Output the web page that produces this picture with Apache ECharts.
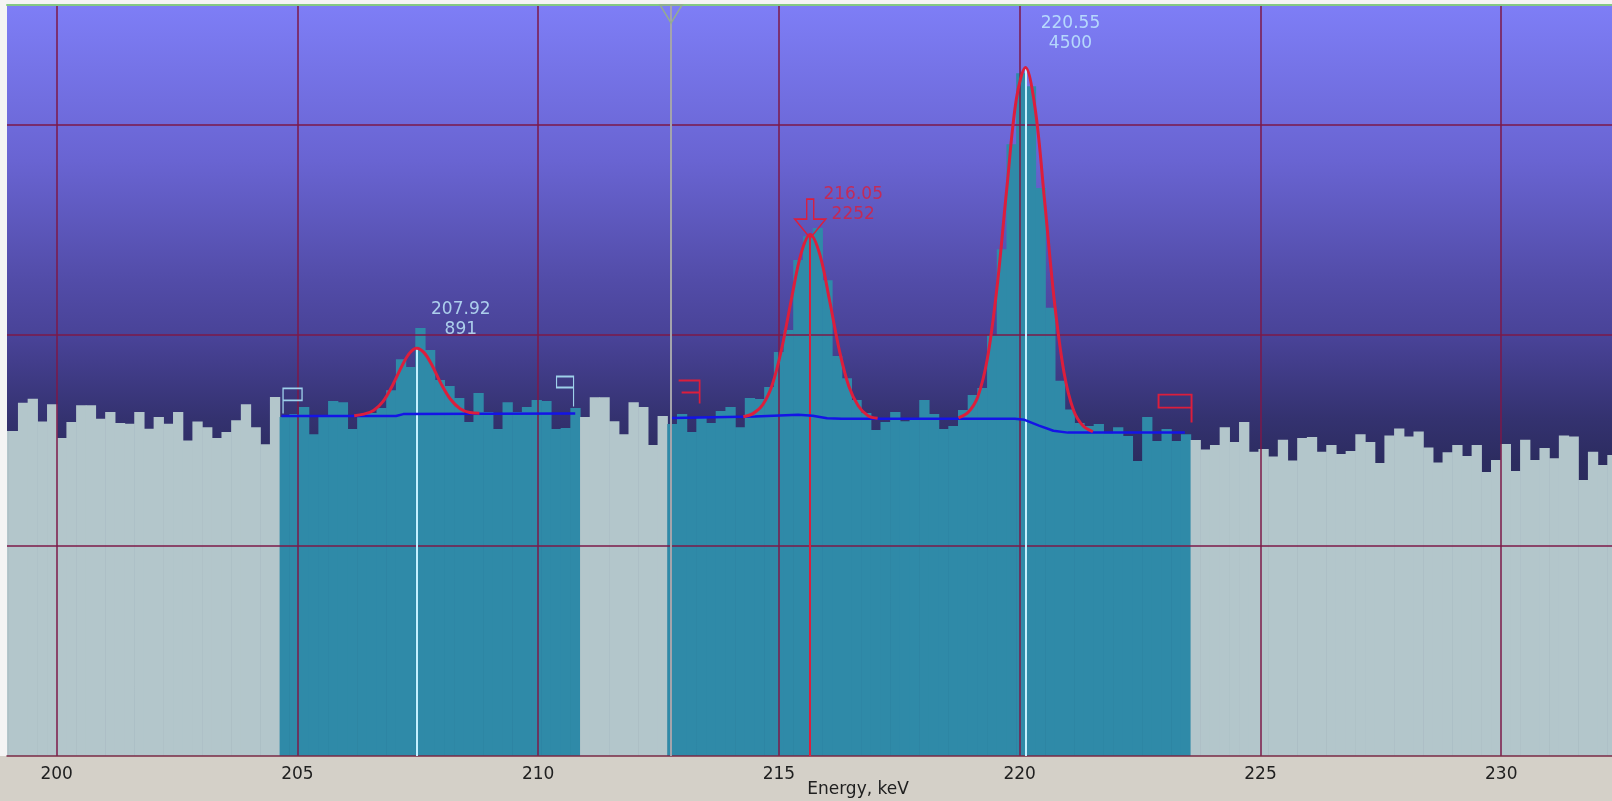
<!DOCTYPE html>
<html><head><meta charset="utf-8">
<script src="https://cdn.jsdelivr.net/npm/echarts@6/dist/echarts.min.js"></script>
<style>html,body{margin:0;padding:0;background:#d4d0c8;}#c{width:1612px;height:801px;}</style>
</head><body><div id="c"></div>
<script>
// energy calibration: channel i lower edge = CAL_OFFSET + CAL_GAIN * i  (keV)
const CAL_OFFSET = 198.795, CAL_GAIN = 0.20125;
// counts per channel
const counts = [
 1247,1247,1356,1371,1284,1350,1220,1282,1346,1346,1294,1320,1278,1275,1320,1256,1301,1275,1320,1211,1284,1262,1220,1243,1288,1350,1262,1196,1378,
 1301,1312,1339,1235,1305,1362,1358,1255,1312,1316,1335,1404,1523,1493,1642,1558,1443,1420,1374,1282,1393,1320,1255,1358,1320,1339,1366,1362,1255,1259,1335,
 1301,1377,1377,1285,1235,1358,1339,1193,1305,
 1274,1312,1243,1301,1278,1324,1339,1262,1374,1370,1416,1550,1635,1903,1995,2026,1826,1535,1450,1366,1316,1251,1282,1320,1285,1297,1366,1312,1255,1266,1328,1385,1412,1615,1945,2348,2620,2570,2180,1720,1440,1330,1278,1266,1274,1239,1262,1228,1132,1301,1209,1255,1209,1235,
 1213,1176,1193,1262,1205,1282,1168,1178,1149,1214,1134,1220,1224,1168,1193,1159,1170,1235,1205,1124,1230,1257,1226,1245,1184,1126,1166,1193,1151,1193,1090,1136,1197,1094,1214,1136,1182,1143,1230,1226,1059,1168,1117,1155
];
// regions of interest (keV)
const roiStart = [204.63, 212.72];
const roiEnd   = [210.87, 223.60];
// background (baseline) under peaks
const roi1Base = [[204.67,1305],[207.05,1305],[207.2,1312],[210.77,1314]];
const roi2Base = [[212.78,1297],[214.5,1303],[215.4,1310],[215.7,1306],[216.0,1296],[216.3,1294],[219.9,1294],[220.1,1290],[220.4,1268],[220.7,1248],[221.0,1241],[223.43,1241]];
// fitted peak curves
const fit1 = [[206.18,1306],[206.38,1312],[206.58,1326],[206.78,1361],[206.98,1424],[207.18,1500],[207.33,1546],[207.48,1565],[207.63,1548],[207.78,1505],[207.98,1430],[208.18,1369],[208.38,1333],[208.58,1318],[208.78,1315]];
const fit2 = [[214.26,1302],[214.46,1314],[214.66,1347],[214.86,1424],[215.06,1565],[215.26,1754],[215.46,1928],[215.65,2001],[215.85,1924],[216.05,1750],[216.25,1561],[216.45,1420],[216.65,1343],[216.85,1306],[217.05,1296]];
const fit3 = [[218.73,1298],[218.93,1319],[219.13,1379],[219.33,1526],[219.53,1800],[219.73,2174],[219.93,2520],[220.12,2642],[220.32,2486],[220.52,2125],[220.72,1745],[220.92,1472],[221.12,1326],[221.32,1266],[221.52,1245]];
// peaks: measured position, top, library energy label, area
const peakE    = [207.48, 215.65, 220.12];
const peakTop  = [1565, 2001, 2642];
const peakName = ['207.92', '216.05', '220.55'];
const peakArea = [891, 2252, 4500];
const markerE = 212.76;

const X_MIN = 198.97, X_MAX = 232.30, Y_MAX = 2882, Y_STEP = 808;
const GRAY = '#b3c6cb', TEAL = '#2f8aa8', GRID = '#7d1848', RED = '#dc1e3c', CYAN = '#c4f0ff';

const hist = counts.map((c, i) => [CAL_OFFSET + CAL_GAIN * (i + 0.5), c]);

function renderHist(params, api) {
  const e = api.value(0), c = api.value(1);
  const p0 = api.coord([e - CAL_GAIN / 2, c]);
  const p1 = api.coord([e + CAL_GAIN / 2, 0]);
  let inRoi = false;
  for (let r = 0; r < roiStart.length; r++) if (e > roiStart[r] && e < roiEnd[r]) inRoi = true;
  return {type: 'rect', shape: {x: p0[0], y: p0[1], width: p1[0] - p0[0] + 0.6, height: p1[1] - p0[1]},
          style: {fill: inRoi ? TEAL : GRAY}};
}

const chart = echarts.init(document.getElementById('c'));
const peakColors = [CYAN, RED, CYAN];
const labelOffsets = [[44, -29], [43, -29.5], [45, -34]];

chart.setOption({
  animation: false,
  backgroundColor: '#d4d0c8',
  graphic: [
    {type: 'rect', shape: {x: 0, y: 0, width: 7, height: 756}, style: {fill: '#f4f4f4'}, silent: true},
    {type: 'rect', shape: {x: 0, y: 0, width: 1612, height: 4}, style: {fill: '#f4f4f4'}, silent: true}
  ],
  grid: {
    left: 7, right: 0, top: 5, bottom: 45, show: true, borderWidth: 0,
    containLabel: false, outerBoundsMode: 'none',
    backgroundColor: {type: 'linear', x: 0, y: 0, x2: 0, y2: 1, colorStops: [
      {offset: 0, color: '#7e7ef6'}, {offset: 0.207, color: '#6964d2'}, {offset: 0.367, color: '#524ca8'},
      {offset: 0.447, color: '#484296'}, {offset: 0.549, color: '#343270'}, {offset: 0.607, color: '#2c2c60'},
      {offset: 1, color: '#1c1c40'}]}
  },
  xAxis: [{
    type: 'value', min: X_MIN, max: X_MAX, minInterval: 5, maxInterval: 5, z: 3,
    axisLine: {show: true, onZero: false, lineStyle: {color: '#7a2a45', width: 1.5}},
    axisTick: {show: false},
    splitLine: {show: true, showMinLine: false, showMaxLine: false, lineStyle: {color: GRID, width: 1.5}},
    axisLabel: {show: true, showMinLabel: false, showMaxLabel: false, margin: 10, color: '#202020',
                fontFamily: 'DejaVu Sans', fontSize: 17},
    name: 'Energy, keV', nameLocation: 'middle', nameGap: 25, nameMoveOverlap: false,
    nameTextStyle: {color: '#202020', fontFamily: 'DejaVu Sans', fontSize: 17, padding: [0, 0, 0, 97]}
  }, {
    type: 'value', position: 'top', min: X_MIN, max: X_MAX, z: 4,
    axisLine: {show: true, onZero: false, lineStyle: {color: '#84c884', width: 2}},
    axisTick: {show: false}, axisLabel: {show: false}, splitLine: {show: false}
  }],
  yAxis: {
    type: 'value', min: 0, max: Y_MAX, interval: Y_STEP, z: 3,
    axisLine: {show: false}, axisTick: {show: false}, axisLabel: {show: false},
    splitLine: {show: true, showMinLine: false, showMaxLine: false, lineStyle: {color: GRID, width: 1.5}}
  },
  series: [
    {type: 'custom', name: 'spectrum', data: hist, renderItem: renderHist, encode: {x: 0, y: 1}, clip: true, z: 1, silent: true},
    {type: 'line', name: 'base1', data: roi1Base, symbol: 'none', z: 5, silent: true,
     lineStyle: {color: '#1414e6', width: 2.5},
     markPoint: {silent: true, label: {show: false}, data: [
       {coord: [roiStart[0], roi1Base[0][1]], symbol: 'path://M0,25 L0,0 L19,0 L19,12 L0,12', symbolSize: [19, 25], symbolOffset: [13, -15],
        itemStyle: {color: 'rgba(0,0,0,0)', borderColor: '#9ed0ea', borderWidth: 1.5}},
       {coord: [roiEnd[0], roi1Base[3][1]], symbol: 'path://M17,30 L17,0 L0,0 L0,11 L17,11', symbolSize: [17, 30], symbolOffset: [-15, -22],
        itemStyle: {color: 'rgba(0,0,0,0)', borderColor: '#9ed0ea', borderWidth: 1.5}}
     ]}},
    {type: 'line', name: 'base2', data: roi2Base, symbol: 'none', z: 5, silent: true,
     lineStyle: {color: '#1414e6', width: 2.5},
     markPoint: {silent: true, label: {show: false}, data: [
       {coord: [roiStart[1], roi2Base[0][1]], symbol: 'path://M0,0 L21,0 L21,12 L3,12 M21,12 L21,23', symbolSize: [21, 23], symbolOffset: [20, -26],
        itemStyle: {color: 'rgba(0,0,0,0)', borderColor: RED, borderWidth: 1.8}},
       {coord: [roiEnd[1], roi2Base[roi2Base.length - 1][1]], symbol: 'path://M0,0 L33,0 L33,13 L0,13 Z M33,13 L33,28', symbolSize: [33, 28], symbolOffset: [-18, -24],
        itemStyle: {color: 'rgba(0,0,0,0)', borderColor: RED, borderWidth: 1.8}}
     ]}},
    {type: 'line', name: 'fit1', data: fit1, smooth: 0.35, symbol: 'none', z: 6, silent: true, lineStyle: {color: RED, width: 3}},
    {type: 'line', name: 'fit2', data: fit2, smooth: 0.35, symbol: 'none', z: 6, silent: true, lineStyle: {color: RED, width: 3}},
    {type: 'line', name: 'fit3', data: fit3, smooth: 0.35, symbol: 'none', z: 6, silent: true, lineStyle: {color: RED, width: 3}},
    {type: 'scatter', name: 'peaks', z: 7, silent: true, symbolSize: 0,
     data: peakE.map((e, i) => ({value: [e, peakTop[i]],
       label: {show: true, position: 'inside', offset: labelOffsets[i], color: peakColors[i]}})),
     label: {show: true, fontFamily: 'DejaVu Sans', fontSize: 17, lineHeight: 20, align: 'center', verticalAlign: 'middle',
             formatter: p => peakName[p.dataIndex] + '\n' + peakArea[p.dataIndex]},
     markLine: {silent: true, symbol: ['none', 'none'], label: {show: false}, data:
       peakE.map((e, i) => [{coord: [e, 0], lineStyle: {color: peakColors[i], width: 2, type: 'solid'}}, {coord: [e, peakTop[i]]}])
       .concat([[{coord: [markerE, 0], lineStyle: {color: '#a4a4ac', width: 2, type: 'solid'}}, {coord: [markerE, Y_MAX]}]])},
     markPoint: {silent: true, label: {show: false}, data: [
       {coord: [peakE[1], peakTop[1]], symbol: 'path://M12,0 L19,0 L19,20 L31,20 L15.5,39 L0,20 L12,20 Z', symbolSize: [31, 39], symbolOffset: [0, -16],
        itemStyle: {color: 'rgba(0,0,0,0)', borderColor: RED, borderWidth: 1.5}},
       {coord: [markerE, Y_MAX], symbol: 'triangle', symbolRotate: 180, symbolSize: [22, 18], symbolOffset: [0, 9],
        itemStyle: {color: 'rgba(0,0,0,0)', borderColor: '#94ac90', borderWidth: 1.5}}
     ]}}
  ]
});
</script></body></html>
